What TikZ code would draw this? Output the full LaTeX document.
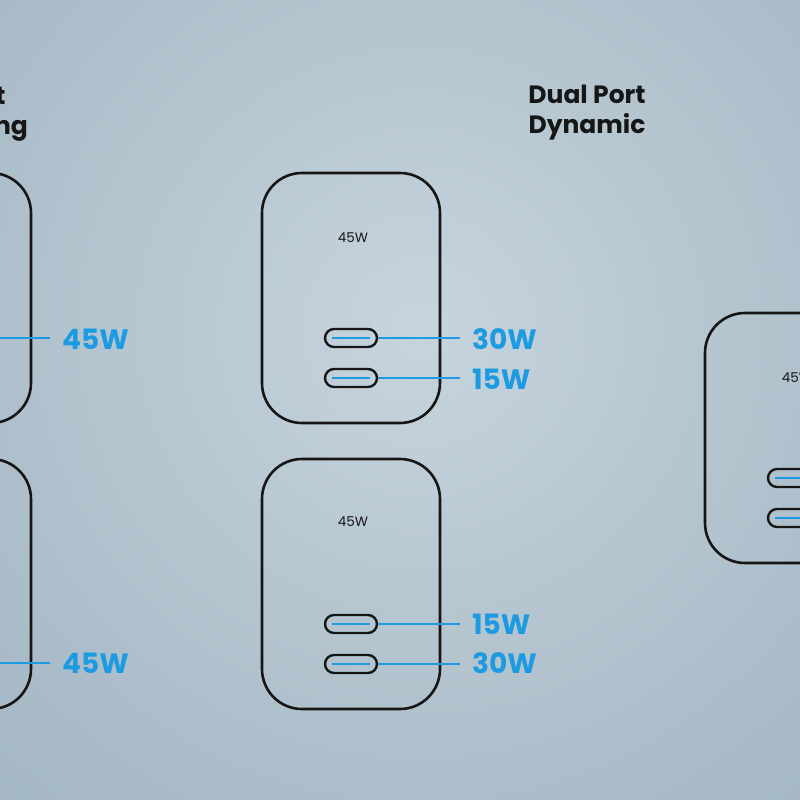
\documentclass[tikz,border=0pt]{standalone}
\usepackage{fontspec}
\setmainfont{Poppins}
\definecolor{bgA}{HTML}{C6D4DD}
\definecolor{bgB}{HTML}{ABBDC9}
\definecolor{bgC}{HTML}{8FA4B5}
\definecolor{chblue}{HTML}{1D9BE2}
\definecolor{ink}{HTML}{161616}
\pgfdeclareradialshading{bgshade}{\pgfpoint{0bp}{0bp}}{color(0bp)=(bgA); color(15bp)=(bgB); color(34.5bp)=(bgC); color(50bp)=(bgC)}
\begin{document}
\begin{tikzpicture}[x=1pt,y=-1pt,
  charger/.style={draw=ink,line width=2.6pt,rounded corners=40pt,minimum width=178pt,minimum height=250pt,inner sep=0pt},
  port/.style={draw=ink,line width=2.4pt,rounded corners=9pt,minimum width=52pt,minimum height=18pt,inner sep=0pt},
  rating/.style={text=ink,font=\fontsize{13.5}{15}\selectfont,inner sep=0pt},
  watt/.style={text=chblue,font=\fontsize{28}{30}\selectfont\bfseries,inner sep=0pt,anchor=west},
  wire/.style={draw=chblue,line width=1.2pt},
  title/.style={text=ink,font=\fontsize{25}{30}\selectfont\bfseries,align=center,inner sep=0pt}
]
\useasboundingbox (0,0) rectangle (800,800);
\clip (0,0) rectangle (800,800);
\fill[shading=bgshade] (420,330) circle (800);

% titles
\node[title] (t1) at (-63,113) {Single Port\\Fast Charging};
\node[title] (t2) at (587,113) {Dual Port\\Dynamic};

% left column
\node[charger] (cA) at (-58,298) {};
\node[port] (pA) at (-58,338) {};
\node[watt] (lA) at (62,339) {45W};
\draw[wire] (pA.east) -- ([xshift=-12pt]pA.east -| lA.west);

\node[charger] (cB) at (-58,584) {};
\node[port] (pB) at (-58,663) {};
\node[watt] (lB) at (62,663) {45W};
\draw[wire] (pB.east) -- ([xshift=-12pt]pB.east -| lB.west);

% middle column
\node[charger] (cC) at (351,298) {};
\node[rating] (rC) at (353,238) {45W};
\node[port] (pC1) at (351,338) {};
\node[port] (pC2) at (351,378) {};
\node[watt] (lC1) at (472,339) {30W};
\node[watt] (lC2) at (472,379) {15W};
\draw[wire] (pC1.east) -- ([xshift=-12pt]pC1.east -| lC1.west);
\draw[wire] (pC2.east) -- ([xshift=-12pt]pC2.east -| lC2.west);

\node[charger] (cD) at (351,584) {};
\node[rating] (rD) at (353,522) {45W};
\node[port] (pD1) at (351,624) {};
\node[port] (pD2) at (351,664) {};
\node[watt] (lD1) at (472,624) {15W};
\node[watt] (lD2) at (472,663) {30W};
\draw[wire] (pD1.east) -- ([xshift=-12pt]pD1.east -| lD1.west);
\draw[wire] (pD2.east) -- ([xshift=-12pt]pD2.east -| lD2.west);

% right column
\node[charger] (cE) at (794,438) {};
\node[rating] (rE) at (797,378) {45W};
\node[port] (pE1) at (794,478) {};
\node[port] (pE2) at (794,518) {};
\coordinate (eE1) at (900,478);
\coordinate (eE2) at (900,518);
\draw[wire] (pE1.east) -- (eE1);
\draw[wire] (pE2.east) -- (eE2);

% blue strips inside ports
\foreach \p in {pA,pB,pC1,pC2,pD1,pD2,pE1,pE2}{
  \draw[chblue,line width=2pt] ([xshift=8pt]\p.west) -- ([xshift=-8pt]\p.east);
}
\end{tikzpicture}
\end{document}
